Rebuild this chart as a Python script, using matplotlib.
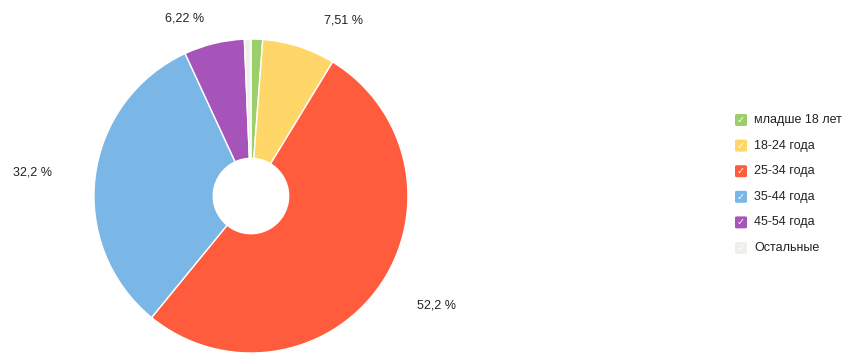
import matplotlib.pyplot as plt
from matplotlib.patches import FancyBboxPatch

plt.rcParams['font.family'] = ['Liberation Sans', 'DejaVu Sans']

# age groups, clockwise from the top
groups = ['младше 18 лет', '18-24 года', '25-34 года', '35-44 года', '45-54 года', 'Остальные']
shares = [1.2, 7.51, 52.2, 32.2, 6.22, 0.67]
labels = ['', '7,51 %', '52,2 %', '32,2 %', '6,22 %', '']
colors = ['#9bcf6a', '#ffd768', '#ff5b3d', '#7ab6e6', '#a654b9', '#efeeeb']

# where each label sits (pie radius = 1)
label_xy = [None, (0.59, 1.12), (1.18, -0.70), (-1.39, 0.15), (-0.42, 1.13), None]

fig = plt.figure(figsize=(8.52, 3.63), dpi=100)
ax = fig.add_axes([0.1103, 0.0275, 0.3685, 0.865])

ax.pie(shares, colors=colors, startangle=90, counterclock=False, radius=1,
       wedgeprops=dict(width=0.76, edgecolor='white', linewidth=1))
for lab, xy in zip(labels, label_xy):
    if xy is None:
        continue
    ax.text(xy[0], xy[1], lab, ha='center', va='center', fontsize=9, color='#222222')
ax.set_xlim(-1, 1)
ax.set_ylim(-1, 1)
ax.set_aspect('equal')
ax.axis('off')

# legend with check boxes
W, H = 852, 363
for i, (g, c) in enumerate(zip(groups, colors)):
    y = 120 + i * 25.6
    box = FancyBboxPatch(((735) / W, (H - y - 6) / H), 12 / W, 12 / H,
                         boxstyle='round,pad=0,rounding_size=0.003',
                         transform=fig.transFigure, facecolor=c, edgecolor='none')
    fig.patches.append(box)
    fig.text(741 / W, (H - y) / H, '✓', color='white', fontsize=7,
             ha='center', va='center', family='DejaVu Sans')
    fig.text(754 / W, (H - y) / H, g, fontsize=9, ha='left', va='center', color='#222222')

fig.savefig('out.png', dpi=100)
